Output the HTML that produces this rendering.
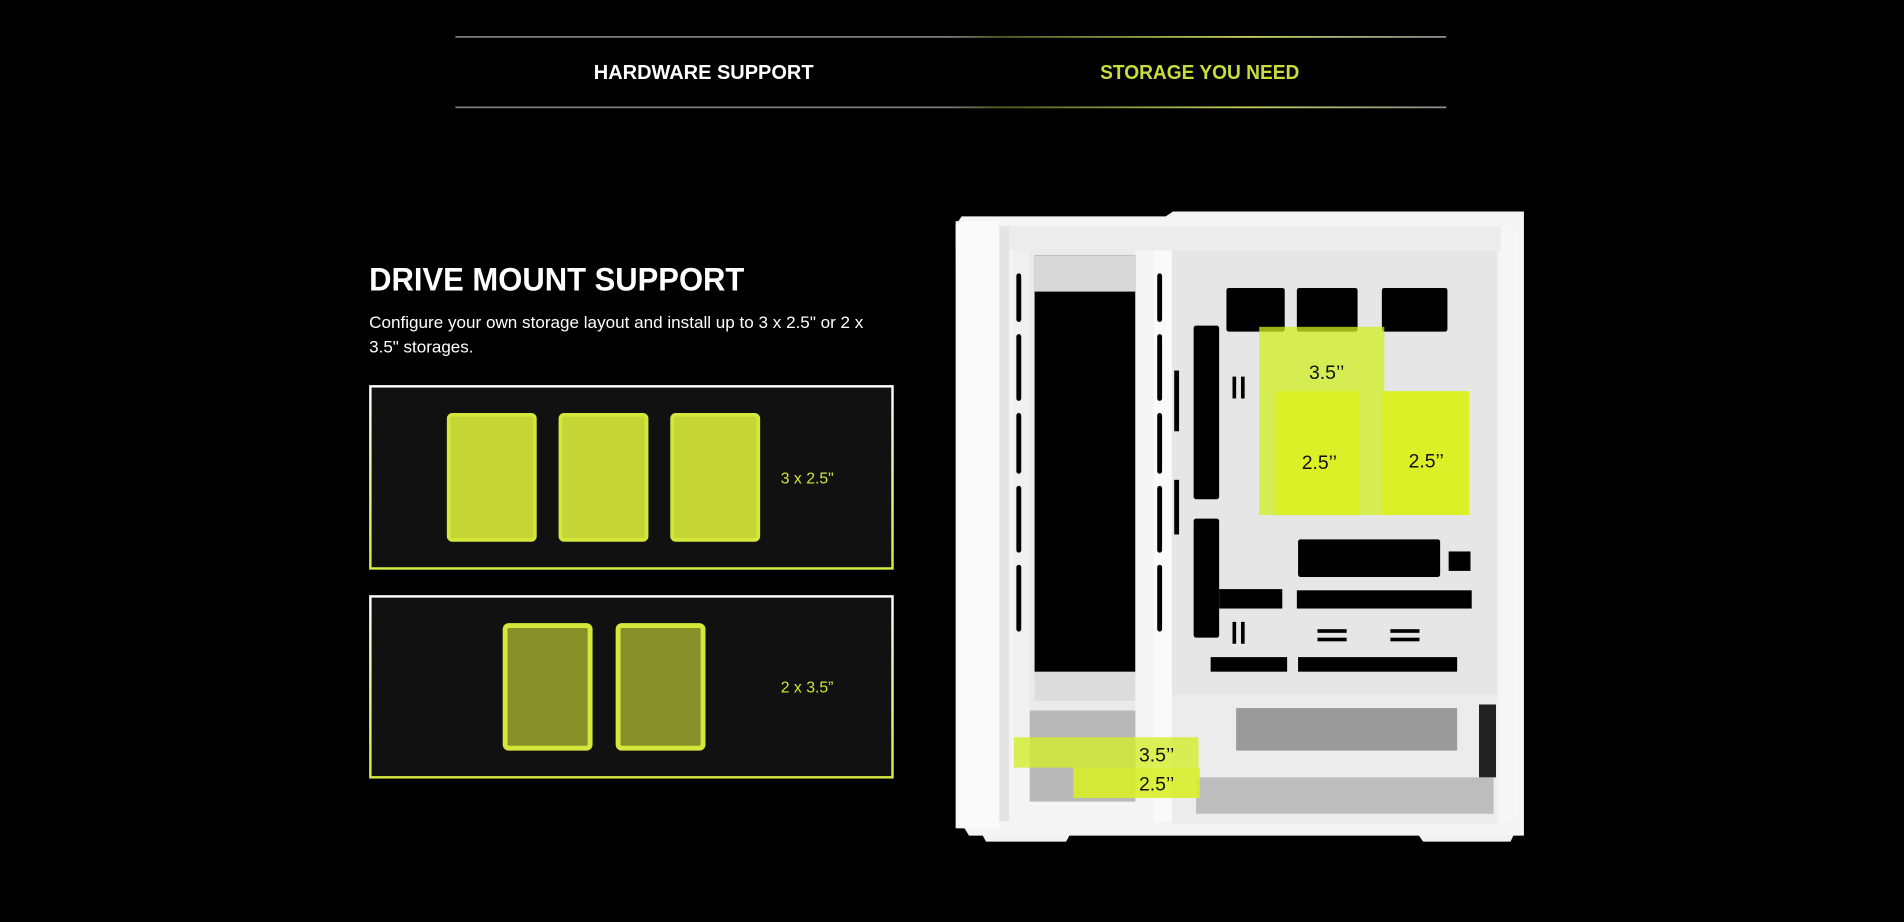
<!DOCTYPE html>
<html><head><meta charset="utf-8"><style>
html,body{margin:0;padding:0;background:#000;width:1904px;height:922px;overflow:hidden}
svg{display:block}
text{font-family:"Liberation Sans",Arial,sans-serif}
</style></head><body>
<svg width="1904" height="922" viewBox="0 0 1568 759" xmlns="http://www.w3.org/2000/svg">
<defs>
<linearGradient id="gl" x1="0" x2="1" y1="0" y2="0">
<stop offset="0" stop-color="#777"/><stop offset="0.5" stop-color="#777"/>
<stop offset="0.55" stop-color="#555a20"/><stop offset="0.8" stop-color="#c8d060"/><stop offset="1" stop-color="#888"/>
</linearGradient>
<linearGradient id="bx" x1="0" x2="0" y1="0" y2="1">
<stop offset="0" stop-color="#fff"/><stop offset="1" stop-color="#d8ec40"/>
</linearGradient>
</defs>
<rect width="1568" height="759" fill="#000"/>
<rect x="375" y="29.5" width="816" height="1.5" fill="url(#gl)"/>
<rect x="375" y="87.5" width="816" height="1.5" fill="url(#gl)"/>
<text x="489" y="65" font-size="17" font-weight="bold" fill="#fff" textLength="181" lengthAdjust="spacingAndGlyphs">HARDWARE SUPPORT</text>
<text x="906" y="65" font-size="17" font-weight="bold" fill="#c8dc3c" textLength="164" lengthAdjust="spacingAndGlyphs">STORAGE YOU NEED</text>
<text x="304" y="239" font-size="27" font-weight="bold" fill="#fff" textLength="309" lengthAdjust="spacingAndGlyphs">DRIVE MOUNT SUPPORT</text>
<text x="304" y="270" font-size="14" fill="#fff" textLength="407" lengthAdjust="spacingAndGlyphs">Configure your own storage layout and install up to 3 x 2.5" or 2 x</text>
<text x="304" y="290" font-size="14" fill="#fff">3.5" storages.</text>
<rect x="305" y="318" width="430" height="150" fill="#111" stroke="url(#bx)" stroke-width="2"/>
<g fill="#c4d535" stroke="#d4e83c" stroke-width="3">
<rect x="369.5" y="341.5" width="71" height="103" rx="3"/>
<rect x="461.5" y="341.5" width="71" height="103" rx="3"/>
<rect x="553.5" y="341.5" width="71" height="103" rx="3"/>
</g>
<text x="643" y="398" font-size="13" fill="#d4e43c">3 x 2.5"</text>
<rect x="305" y="491" width="430" height="149" fill="#111" stroke="url(#bx)" stroke-width="2"/>
<g fill="#879028" stroke="#d4e83c" stroke-width="4">
<rect x="416" y="515" width="70" height="101" rx="3"/>
<rect x="509" y="515" width="70" height="101" rx="3"/>
</g>
<text x="643" y="570" font-size="13" fill="#d4e43c">2 x 3.5”</text>
<g>
<path d="M805 680 L885 680 L878 693 L812 693 Z" fill="#f2f2f2"/>
<path d="M1163 680 L1250 680 L1244 693 L1172 693 Z" fill="#f2f2f2"/>
<path d="M792 178 L960 178 L966 174 L1255 174 L1255 688 L798 688 L790 675 L787 185 Z" fill="#f4f4f4"/>
<rect x="787" y="182" width="36" height="500" fill="#fafafa"/>
<rect x="823" y="186" width="8" height="490" fill="#e4e4e4"/>
<rect x="831" y="186" width="405" height="20" fill="#ececec"/>
<rect x="1236" y="186" width="14" height="490" fill="#f6f6f6"/>
<rect x="965" y="206" width="268" height="366" fill="#e6e6e6"/>
<rect x="835" y="206" width="115" height="400" fill="#eaeaea"/>
<rect x="852" y="210" width="83" height="345" fill="#000"/>
<rect x="852" y="210" width="83" height="30" fill="#d8d8d8"/>
<rect x="852" y="553" width="83" height="24" fill="#dcdcdc"/>
<rect x="835" y="206" width="13" height="420" fill="#f0f0f0"/>
<rect x="935" y="206" width="15" height="420" fill="#f4f4f4"/>
<rect x="950" y="206" width="15" height="470" fill="#fafafa"/>
<g fill="#000">
<rect x="837" y="225" width="4" height="40" rx="2"/><rect x="837" y="275" width="4" height="55" rx="2"/><rect x="837" y="340" width="4" height="50" rx="2"/><rect x="837" y="400" width="4" height="55" rx="2"/><rect x="837" y="465" width="4" height="55" rx="2"/>
<rect x="953" y="225" width="4" height="40" rx="2"/><rect x="953" y="275" width="4" height="55" rx="2"/><rect x="953" y="340" width="4" height="50" rx="2"/><rect x="953" y="400" width="4" height="55" rx="2"/><rect x="953" y="465" width="4" height="55" rx="2"/>
<rect x="1010" y="237" width="48" height="36" rx="2"/>
<rect x="1068" y="237" width="50" height="36" rx="2"/>
<rect x="1138" y="237" width="54" height="36" rx="2"/>
<rect x="983" y="268" width="21" height="143" rx="2"/>
<rect x="983" y="427" width="21" height="98" rx="2"/>
<rect x="1069" y="444" width="117" height="31" rx="2"/>
<rect x="1193" y="454" width="18" height="16"/>
<rect x="1004" y="485" width="52" height="16"/>
<rect x="1068" y="486" width="144" height="15"/>
<rect x="997" y="541" width="63" height="12"/>
<rect x="1069" y="541" width="131" height="12"/>
<rect x="967" y="305" width="4" height="50"/><rect x="967" y="395" width="4" height="45"/>
<rect x="1015" y="310" width="3" height="18"/><rect x="1022" y="310" width="3" height="18"/>
<rect x="1015" y="512" width="3" height="18"/><rect x="1022" y="512" width="3" height="18"/>
<rect x="1085" y="518" width="24" height="3"/><rect x="1085" y="525" width="24" height="3"/>
<rect x="1145" y="518" width="24" height="3"/><rect x="1145" y="525" width="24" height="3"/>
</g>
<rect x="965" y="572" width="268" height="106" fill="#ececec"/>
<rect x="1018" y="583" width="182" height="35" fill="#9a9a9a"/>
<rect x="985" y="640" width="245" height="30" fill="#bdbdbd"/>
<rect x="848" y="585" width="87" height="75" fill="#b8b8b8"/>
<rect x="1218" y="580" width="14" height="60" fill="#222"/>
<rect x="1037" y="269" width="103" height="155" fill="#cfef20" opacity="0.75"/>
<rect x="1050" y="322" width="70" height="102" fill="#dcf028"/>
<rect x="1138" y="322" width="72" height="102" fill="#dcf028"/>
<rect x="835" y="607" width="152" height="25" fill="#d2ee2a" opacity="0.8"/>
<rect x="884" y="632" width="104" height="25" fill="#d8f02a" opacity="0.9"/>
</g>
<g font-size="16" fill="#111">
<text x="1078" y="312">3.5’’</text>
<text x="1072" y="386">2.5’’</text>
<text x="1160" y="385">2.5’’</text>
<text x="938" y="627">3.5’’</text>
<text x="938" y="651">2.5’’</text>
</g>
</svg>
</body></html>
